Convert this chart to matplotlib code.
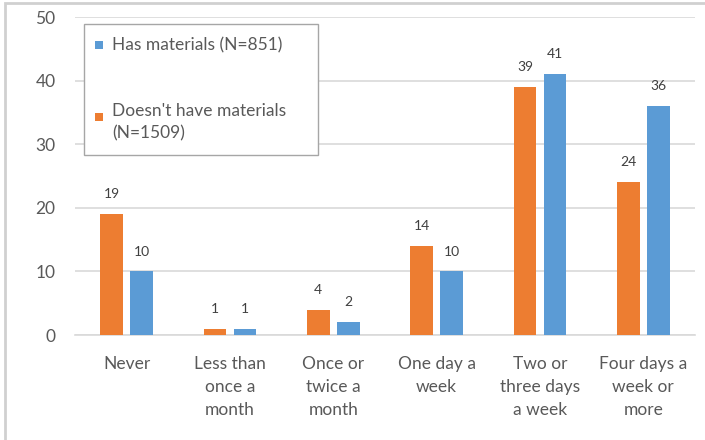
import matplotlib
matplotlib.use("Agg")
import matplotlib.pyplot as plt
from matplotlib.patches import Rectangle
import numpy as np

# frequency of use, percent of respondents
categories = ["Never", "Less than\nonce a\nmonth", "Once or\ntwice a\nmonth",
              "One day a\nweek", "Two or\nthree days\na week", "Four days a\nweek or\nmore"]
no_materials = [19, 1, 4, 14, 39, 24]
has_materials = [10, 1, 2, 10, 41, 36]
legend_labels = ["Has materials (N=851)", "Doesn't have materials\n(N=1509)"]

orange = "#ED7D31"
blue = "#5B9BD5"
grid_col = "#D9D9D9"
text_col = "#595959"

plt.rcParams["font.family"] = ["Lato", "DejaVu Sans"]

W, H = 705, 440
fig = plt.figure(figsize=(W / 100, H / 100), dpi=100)
ax = fig.add_axes([75 / W, 105 / H, 620 / W, 318 / H])

x = np.arange(len(categories))
w = 0.22
off = 0.146
b1 = ax.bar(x - off, no_materials, w, color=orange, zorder=3)
b2 = ax.bar(x + off, has_materials, w, color=blue, zorder=3)

for bars, vals in ((b1, no_materials), (b2, has_materials)):
    for rect, v in zip(bars, vals):
        ax.annotate(str(v), (rect.get_x() + rect.get_width() / 2, v),
                    xytext=(0, 10), textcoords="offset points",
                    ha="center", va="bottom", fontsize=10, color="#404040")

ax.set_xlim(-0.5, len(categories) - 0.5)
ax.set_ylim(0, 50)
ax.set_yticks(range(0, 51, 10))
ax.set_xticks(x)
ax.set_xticklabels(categories, linespacing=1.55)
ax.tick_params(axis="x", length=0, pad=15, labelsize=12.5, labelcolor=text_col)
ax.tick_params(axis="y", length=0, pad=14, labelsize=12.5, labelcolor=text_col)
ax.grid(axis="y", color=grid_col, linewidth=1.2, zorder=0)
for s in ("top", "right", "left"):
    ax.spines[s].set_visible(False)
ax.spines["bottom"].set_color(grid_col)
ax.spines["bottom"].set_linewidth(1.2)


# legend box laid out in pixel units of the axes (origin top-left of plot area)
def ax_pt(px, py):
    return ((px - 75) / 620, (335 - py) / 318)


x0, y0 = ax_pt(84, 155)
x1, y1 = ax_pt(318, 24)
ax.add_patch(Rectangle((x0, y0), x1 - x0, y1 - y0, transform=ax.transAxes,
                       facecolor="white", edgecolor="#A6A6A6", linewidth=1.0, zorder=5))
for col, label, ty in ((blue, legend_labels[0], 45), (orange, legend_labels[1], 122)):
    sx, sy = ax_pt(95, ty + (4 if col == blue else -1))
    sw = 8 / 620
    sh = 8 / 318
    ax.add_patch(Rectangle((sx, sy), sw, sh, transform=ax.transAxes,
                           facecolor=col, edgecolor="none", zorder=6))
    tx, tyf = ax_pt(112, ty)
    ax.text(tx, tyf, label, transform=ax.transAxes, ha="left", va="center",
            fontsize=12.5, color=text_col, linespacing=1.45, zorder=6)

# outer frame of the chart area
fig.add_artist(Rectangle((5 / W, -0.5), 2.0, 1.5 - 3 / H, transform=fig.transFigure,
                         fill=False, edgecolor="#D0D0D0", linewidth=2.0))

fig.savefig("out.png", dpi=100)
